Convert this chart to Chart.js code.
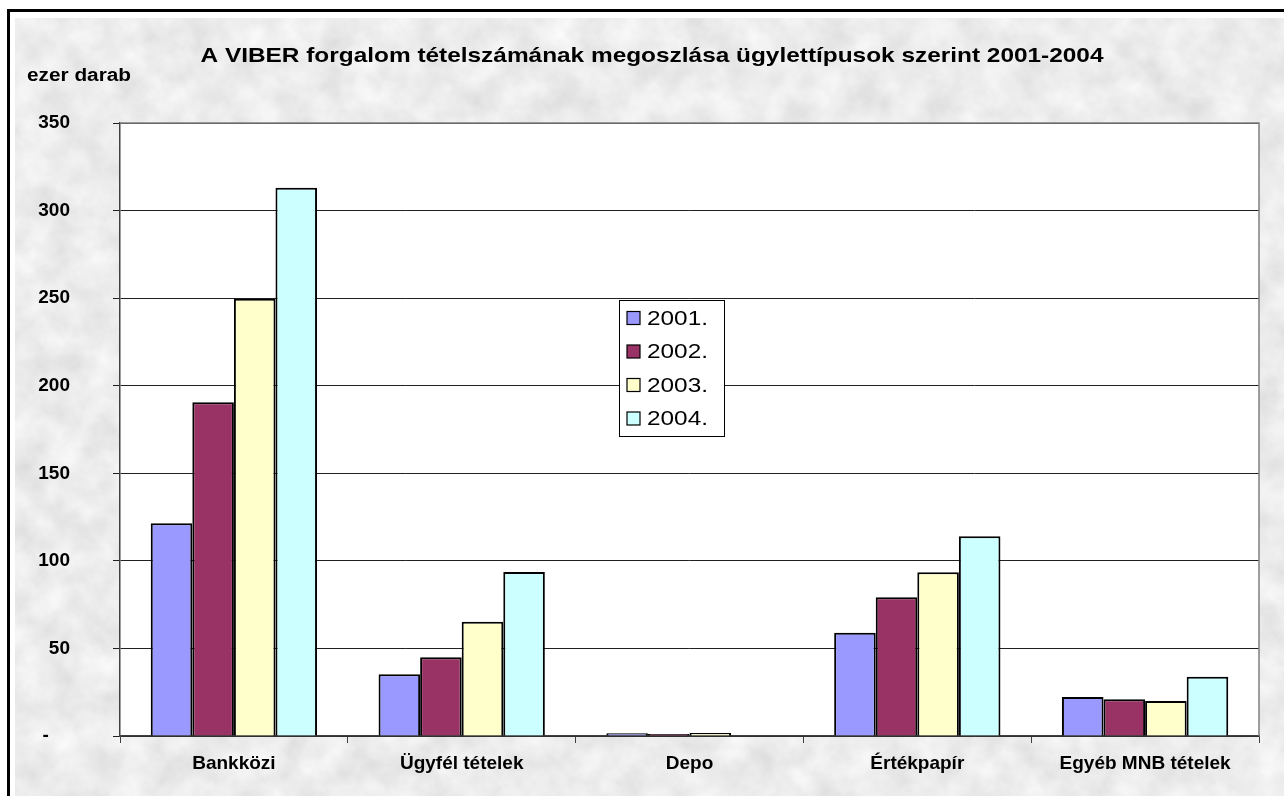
<!DOCTYPE html>
<html>
<head>
<meta charset="utf-8">
<script src="https://cdn.jsdelivr.net/npm/chart.js@4"></script>
<style>
  body { margin: 0; background: #fff; overflow: hidden; }
  #frame { position: absolute; left: 7px; top: 9px; width: 1300px; height: 800px; border: 3px solid #000; }
  #bg { position: absolute; left: 15px; top: 18px; width: 1290px; height: 790px; background-color: #d5d5d5; }
  #wrap { position: absolute; left: 0; top: 0; width: 1284px; height: 796px; }
</style>
</head>
<body>
<div id="frame"></div>
<div id="bg"></div>
<div id="wrap"><canvas id="chart"></canvas></div>
<script>
  var categories = ["Bankközi", "Ügyfél tételek", "Depo", "Értékpapír", "Egyéb MNB tételek"];
  var years = ["2001.", "2002.", "2003.", "2004."];
  var v2001 = [121.5, 35.3, 1.5, 59, 22.3];
  var v2002 = [190.5, 45, 1.2, 79.2, 21];
  var v2003 = [249.6, 65.3, 1.7, 93.5, 20];
  var v2004 = [313, 93.7, 0.3, 114, 33.9];
  var colors = ["#9999ff", "#993366", "#ffffcc", "#ccffff"];
  var yTicks = [0, 50, 100, 150, 200, 250, 300, 350];

  var font = "'Liberation Sans', Arial, sans-serif";

  // granite-like backdrop
  var svg = "<svg xmlns='http://www.w3.org/2000/svg' width='1290' height='790'>" +
    "<filter id='n'><feTurbulence type='fractalNoise' baseFrequency='0.03' numOctaves='4' seed='7'/>" +
    "<feColorMatrix type='matrix' values='0.3 0 0 0 0.69  0.3 0 0 0 0.69  0.3 0 0 0 0.69  0 0 0 0 1'/></filter>" +
    "<rect width='100%' height='100%' filter='url(#n)'/></svg>";
  document.getElementById('bg').style.backgroundImage = 'url("data:image/svg+xml,' + encodeURIComponent(svg) + '")';

  // text stretched to a given width
  function wideText(c, txt, x, y, size, weight, width, align) {
    c.font = weight + ' ' + size + 'px ' + font;
    var w = c.measureText(txt).width;
    var k = width ? width / w : 1;
    c.save();
    c.translate(x, y);
    c.scale(k, 1);
    c.textAlign = align;
    c.fillText(txt, 0, 0);
    c.restore();
  }

  var decor = {
    id: 'decor',
    beforeDraw: function (chart) {
      var a = chart.chartArea, c = chart.ctx;
      c.save();
      c.fillStyle = '#fff';
      c.fillRect(a.left, a.top, a.right - a.left, a.bottom - a.top);
      c.restore();
    },
    afterDraw: function (chart) {
      var a = chart.chartArea, c = chart.ctx;
      c.save();
      c.strokeStyle = '#808080';
      c.lineWidth = 1.5;
      c.beginPath();
      c.moveTo(a.left, a.top); c.lineTo(a.right, a.top); c.lineTo(a.right, a.bottom);
      c.stroke();
      c.fillStyle = '#000';
      c.textBaseline = 'middle';
      wideText(c, 'A VIBER forgalom tételszámának megoszlása ügylettípusok szerint 2001-2004', 652, 56, 21, 'bold', 903, 'center');
      wideText(c, 'ezer darab', 27, 76, 18, 'bold', 104, 'left');

      // legend box
      var x = 619, y = 300, w = 105, h = 136;
      c.fillStyle = '#fff';
      c.fillRect(x, y, w, h);
      c.strokeStyle = '#000';
      c.lineWidth = 1;
      c.strokeRect(x + 0.5, y + 0.5, w, h);
      chart.data.datasets.forEach(function (ds, i) {
        var cy = y + 18 + i * 33.5;
        c.fillStyle = ds.backgroundColor;
        c.fillRect(x + 8, cy - 6.5, 13, 13);
        c.strokeStyle = '#000';
        c.lineWidth = 1.2;
        c.strokeRect(x + 8, cy - 6.5, 13, 13);
        c.fillStyle = '#000';
        wideText(c, ds.label, x + 28, cy + 1, 21, 'normal', 61, 'left');
      });
      c.restore();
    }
  };

  var datasets = [v2001, v2002, v2003, v2004].map(function (vals, i) {
    return {
      label: years[i],
      data: vals,
      backgroundColor: colors[i],
      borderColor: '#000',
      borderWidth: 2,
      barPercentage: 1,
      categoryPercentage: 0.73
    };
  });

  new Chart(document.getElementById('chart'), {
    type: 'bar',
    data: { labels: categories, datasets: datasets },
    options: {
      responsive: true,
      maintainAspectRatio: false,
      animation: false,
      layout: { padding: { top: 123, right: 25, left: 0, bottom: 0 } },
      plugins: { legend: { display: false }, title: { display: false }, tooltip: { enabled: false } },
      scales: {
        x: {
          grid: { drawOnChartArea: false, tickLength: 7, color: '#404040', lineWidth: 1 },
          border: { color: '#404040', width: 1.5 },
          ticks: { color: '#000', font: { family: font, size: 19, weight: 'bold' }, padding: 9, maxRotation: 0 },
          afterFit: function (s) { s.height = 60; }
        },
        y: {
          min: 0, max: 350,
          afterBuildTicks: function (s) { s.ticks = yTicks.map(function (v) { return { value: v }; }); },
          grid: { color: '#202020', lineWidth: 1, tickLength: 7 },
          border: { color: '#404040', width: 1.5 },
          ticks: {
            color: '#000', padding: 43,
            font: { family: font, size: 19, weight: 'bold' },
            callback: function (v) { return v === 0 ? '-    ' : v; }
          },
          afterFit: function (s) { s.width = 120; }
        }
      }
    },
    plugins: [decor]
  });
</script>
</body>
</html>
